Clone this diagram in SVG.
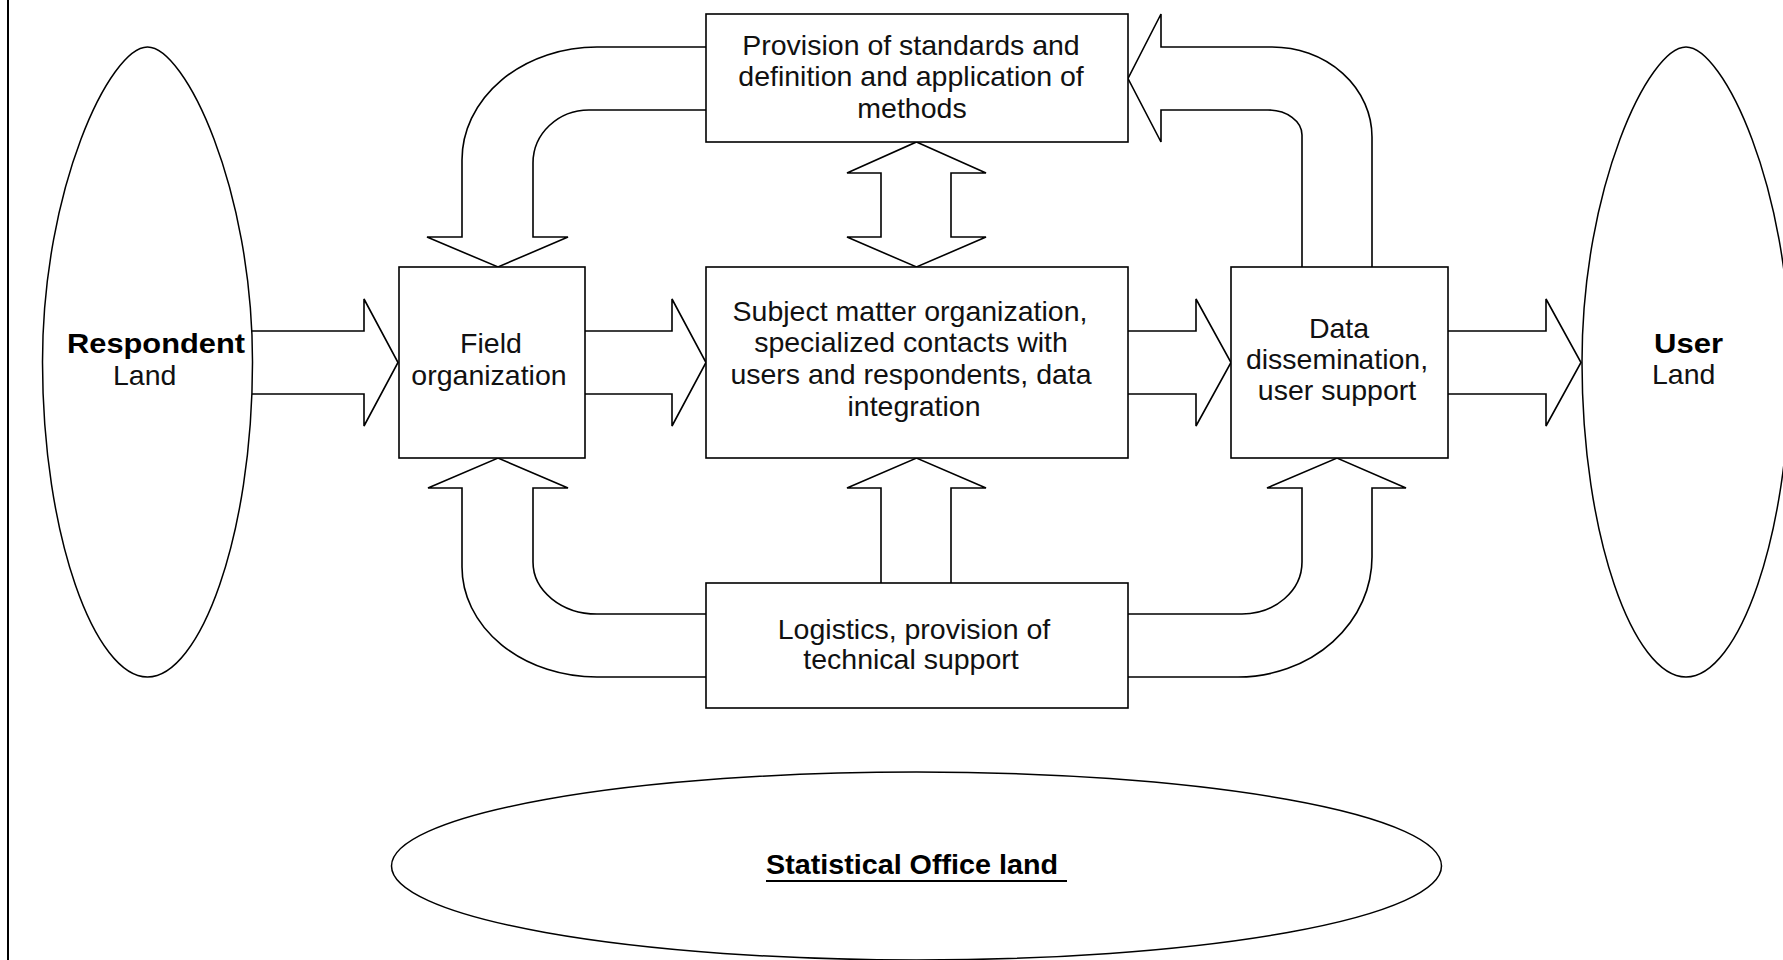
<svg xmlns="http://www.w3.org/2000/svg" width="1783" height="960" viewBox="0 0 1783 960">
<style>
  .shape { fill: #ffffff; stroke: #000000; stroke-width: 1.6; }
  .land { fill: none; stroke: #000000; stroke-width: 1.5; }
  .conn { fill: none; stroke: #000000; stroke-width: 1.6; stroke-linejoin: miter; }
  .t { font-family: "Liberation Sans", Arial, sans-serif; font-size: 28.5px; fill: #111111; text-anchor: middle; }
  .b { font-family: "Liberation Sans", Arial, sans-serif; font-size: 28.5px; font-weight: bold; fill: #000000; }
  .r { font-family: "Liberation Sans", Arial, sans-serif; font-size: 28.5px; fill: #111111; }
</style>
<rect x="0" y="0" width="1783" height="960" fill="#ffffff"/>
<line x1="8" y1="0" x2="8" y2="960" stroke="#000000" stroke-width="2"/>

<g id="respondent-land">
  <path class="land" d="M147.5 47 C110 47 42.5 188 42.5 362 C42.5 536 95 677 147.5 677 C200 677 252.5 536 252.5 362 C252.5 188 185 47 147.5 47 Z"/>
  <text class="b" x="67" y="353" textLength="178" lengthAdjust="spacingAndGlyphs">Respondent</text>
  <text class="r" x="113" y="385">Land</text>
</g>

<g id="user-land">
  <path class="land" d="M1686 47 C1648.5 47 1582 188 1582 362 C1582 536 1633.5 677 1686 677 C1738.5 677 1790 536 1790 362 C1790 188 1723.5 47 1686 47 Z"/>
  <text class="b" x="1654" y="353" textLength="69" lengthAdjust="spacingAndGlyphs">User</text>
  <text class="r" x="1652" y="384">Land</text>
</g>

<g id="statistical-office-land">
  <ellipse class="land" cx="916.5" cy="866" rx="525" ry="94"/>
  <text class="b" x="766" y="874" textLength="292" lengthAdjust="spacingAndGlyphs">Statistical Office land</text>
  <line x1="766" y1="881" x2="1067" y2="881" stroke="#000000" stroke-width="2"/>
</g>

<g id="connectors">
  <!-- horizontal block arrows -->
  <path class="conn" d="M252 331 L364 331 L364 299 L398 362.5 L364 426 L364 394 L252 394"/>
  <path class="conn" d="M585 331 L672 331 L672 299 L706 362.5 L672 426 L672 394 L585 394"/>
  <path class="conn" d="M1128 331 L1196 331 L1196 299 L1231 362.5 L1196 426 L1196 394 L1128 394"/>
  <path class="conn" d="M1448 331 L1546 331 L1546 299 L1581 362.5 L1546 426 L1546 394 L1448 394"/>
  <!-- vertical double arrow between standards and subject matter -->
  <path class="conn" d="M916.5 142 L986 173 L951 173 L951 237 L986 237 L916.5 267 L847 237 L881 237 L881 173 L847 173 Z"/>
  <!-- logistics up to subject matter -->
  <path class="conn" d="M881 583 L881 488 L847 488 L916.5 458 L986 488 L951 488 L951 583"/>
  <!-- standards down to field organization -->
  <path class="conn" d="M706 47 L597 47 A135 113 0 0 0 462 160 L462 237 L427 237 L498 267 L568 237 L533 237 L533 163 A56 53 0 0 1 589 110 L706 110"/>
  <!-- data dissemination up to standards -->
  <path class="conn" d="M1302 267 L1302 135 A34 25 0 0 0 1268 110 L1161 110 L1161 142 L1128 78.5 L1161 14 L1161 47 L1272 47 A100 90 0 0 1 1372 137 L1372 267"/>
  <!-- logistics to field organization -->
  <path class="conn" d="M706 614 L597 614 A64 52 0 0 1 533 562 L533 488 L568 488 L498 458 L428 488 L462 488 L462 567 A135 110 0 0 0 597 677 L706 677"/>
  <!-- logistics to data dissemination -->
  <path class="conn" d="M1128 614 L1242 614 A60 52 0 0 0 1302 562 L1302 488 L1267 488 L1337 458 L1406 488 L1372 488 L1372 557 A134 120 0 0 1 1238 677 L1128 677"/>
</g>

<g id="standards">
  <rect class="shape" x="706" y="14" width="422" height="128"/>
  <text class="t" x="911" y="55">Provision of standards and</text>
  <text class="t" x="911" y="86">definition and application of</text>
  <text class="t" x="912" y="118">methods</text>
</g>

<g id="field-organization">
  <rect class="shape" x="399" y="267" width="186" height="191"/>
  <text class="t" x="491" y="353">Field</text>
  <text class="t" x="489" y="385">organization</text>
</g>

<g id="subject-matter">
  <rect class="shape" x="706" y="267" width="422" height="191"/>
  <text class="t" x="910" y="321">Subject matter organization,</text>
  <text class="t" x="911" y="352">specialized contacts with</text>
  <text class="t" x="911" y="384">users and respondents, data</text>
  <text class="t" x="914" y="416">integration</text>
</g>

<g id="data-dissemination">
  <rect class="shape" x="1231" y="267" width="217" height="191"/>
  <text class="t" x="1339" y="338">Data</text>
  <text class="t" x="1337" y="369">dissemination,</text>
  <text class="t" x="1337" y="400">user support</text>
</g>

<g id="logistics">
  <rect class="shape" x="706" y="583" width="422" height="125"/>
  <text class="t" x="914" y="639">Logistics, provision of</text>
  <text class="t" x="911" y="669">technical support</text>
</g>
</svg>
